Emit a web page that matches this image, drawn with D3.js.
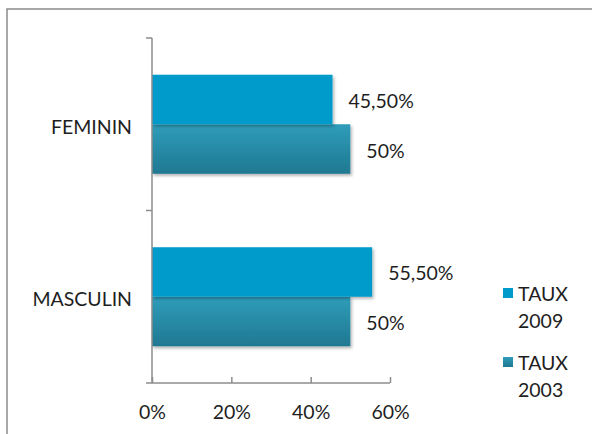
<!DOCTYPE html>
<html><head><meta charset="utf-8">
<script src="https://cdn.jsdelivr.net/npm/d3@7"></script>
<style>body{margin:0;background:#fff;} svg{display:block;}</style>
</head><body>
<svg id="c" width="592" height="434"></svg>
<script>
const categories = ["FEMININ", "MASCULIN"];
const seriesNames = ["TAUX 2009", "TAUX 2003"];
const taux2009 = [45.5, 55.5];
const taux2003 = [50, 50];
const labels2009 = ["45,50%", "55,50%"];
const labels2003 = ["50%", "50%"];
const tickValues = [0, 20, 40, 60];

const svg = d3.select("#c");
const font = "Lato, 'DejaVu Sans', sans-serif";
const fs = 19.5;
const txtColor = "#1e1e1e";
const defs = svg.append("defs");
const g1 = defs.append("linearGradient").attr("id","g03").attr("x1",0).attr("y1",0).attr("x2",0).attr("y2",1);
g1.append("stop").attr("offset","0%").attr("stop-color","#2f9dba");
g1.append("stop").attr("offset","100%").attr("stop-color","#1f7891");
const f = defs.append("filter").attr("id","sh").attr("x","-5%").attr("y","-5%").attr("width","115%").attr("height","130%");
f.append("feDropShadow").attr("dx",1.5).attr("dy",2).attr("stdDeviation",1.5).attr("flood-color","#000").attr("flood-opacity",0.3);

// outer border
svg.append("rect").attr("x",7).attr("y",9).attr("width",600).attr("height",440)
  .attr("fill","none").attr("stroke","#8c8c8c").attr("stroke-width",1.5);

const x = d3.scaleLinear().domain([0,60]).range([152,390]);
const y = d3.scaleBand().domain(categories).range([38,383]);
const inner = d3.scaleBand().domain(seriesNames).range([0, y.bandwidth()]).paddingOuter(0.742).paddingInner(0);

const data = [];
categories.forEach((c,i)=>{
  data.push({cat:c, s:seriesNames[0], v:taux2009[i], lab:labels2009[i], fill:"#009acb"});
  data.push({cat:c, s:seriesNames[1], v:taux2003[i], lab:labels2003[i], fill:"url(#g03)"});
});

const order = data.slice().sort((a,b)=> (a.s===seriesNames[1]? -1:1) - (b.s===seriesNames[1]? -1:1));
svg.selectAll("rect.bar").data(order).enter().append("rect").attr("class","bar")
  .attr("x", x(0)).attr("y", d=>y(d.cat)+inner(d.s))
  .attr("width", d=>x(d.v)-x(0)).attr("height", inner.bandwidth())
  .attr("fill", d=>d.fill).attr("filter","url(#sh)");

svg.selectAll("text.val").data(data).enter().append("text").attr("class","val")
  .attr("x", d=>x(d.v)+16).attr("y", d=>y(d.cat)+inner(d.s)+inner.bandwidth()/2+1)
  .attr("dominant-baseline","central").attr("font-family",font).attr("font-size",fs)
  .attr("fill",txtColor).text(d=>d.lab);

// axes
const axisColor = "#8c8c8c";
const xa = svg.append("g").attr("transform","translate(0,383)")
  .call(d3.axisBottom(x).tickValues(tickValues).tickFormat(d=>d+"%").tickSizeInner(6).tickSizeOuter(0));
xa.select(".domain").remove();
xa.append("line").attr("x1",x(0)).attr("x2",x(60)).attr("stroke",axisColor).attr("stroke-width",1.5);
xa.selectAll(".tick line").attr("stroke",axisColor).attr("stroke-width",1.5).attr("y1",-6).attr("y2",0);
xa.selectAll(".tick text").attr("font-family",font).attr("font-size",fs).attr("fill",txtColor)
  .attr("y",28).attr("dy",null).attr("dominant-baseline","central");

const ya = svg.append("g").attr("transform","translate(152,0)");
ya.append("line").attr("y1",38).attr("y2",383).attr("stroke",axisColor).attr("stroke-width",1.5);
const bounds = [38, y(categories[1]), 383];
ya.selectAll("line.t").data(bounds).enter().append("line").attr("class","t")
  .attr("x1",-6).attr("x2",0).attr("y1",d=>d).attr("y2",d=>d).attr("stroke",axisColor).attr("stroke-width",1.5);
ya.selectAll("text").data(categories).enter().append("text")
  .attr("x",-20).attr("y",d=>y(d)+y.bandwidth()/2+2).attr("text-anchor","end").attr("dominant-baseline","central")
  .attr("font-family",font).attr("font-size",fs).attr("fill",txtColor).text(d=>d);

// legend
const leg = svg.append("g");
const legFills = ["#009acb","url(#g03)"];
seriesNames.forEach((s,i)=>{
  const yy = 293 + i*69;
  leg.append("rect").attr("x",503).attr("y",yy-5).attr("width",10).attr("height",10).attr("fill",legFills[i]);
  const parts = s.split(" ");
  leg.append("text").attr("x",518).attr("y",yy).attr("dominant-baseline","central")
    .attr("font-family",font).attr("font-size",fs).attr("fill",txtColor).text(parts[0]);
  leg.append("text").attr("x",518).attr("y",yy+27).attr("dominant-baseline","central")
    .attr("font-family",font).attr("font-size",fs).attr("fill",txtColor).text(parts[1]);
});
</script>
</body></html>
